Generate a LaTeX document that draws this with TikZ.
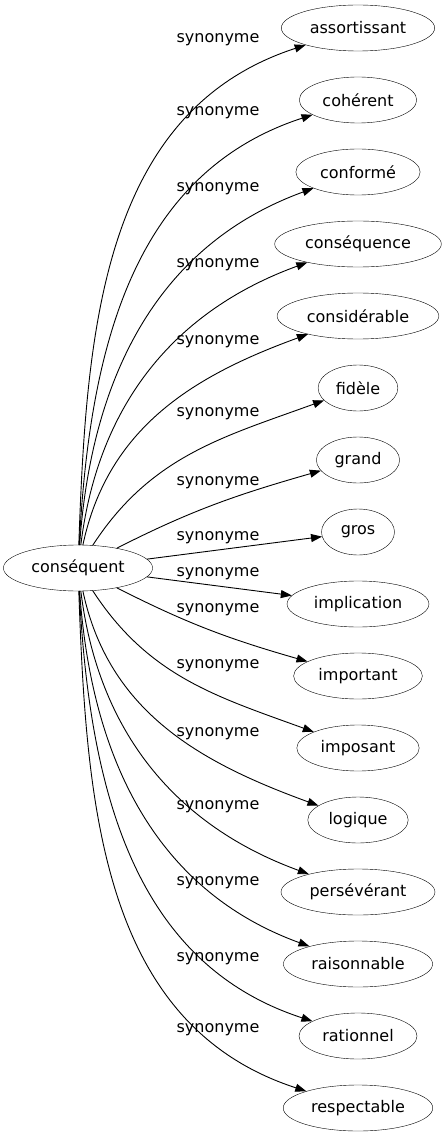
\documentclass[tikz,border=0pt]{standalone}
\usepackage{fontspec}
\setmainfont{DejaVu Sans}
\usetikzlibrary{arrows.meta,shapes.geometric}

\tikzset{mot/.style={draw,ellipse,inner xsep=6pt,inner ysep=2pt,minimum height=46pt,minimum width=73pt},
  lien/.style={->,line width=0.9pt}}

\begin{document}
\begin{tikzpicture}[line cap=round,line join=round,>={Triangle[length=11pt,width=8pt]},x=1pt,y=1pt,font=\fontsize{16}{19}\selectfont]
        \useasboundingbox (0,0) rectangle (445,-1139);
        \node [mot] (cons) at (78,-568) {conséquent};
        \node [mot] (asso) at (358,-28) {assortissant};
        \node [mot] (cohe) at (358,-100) {cohérent};
        \node [mot] (conf) at (358,-172) {conformé};
        \node [mot] (csqc) at (358,-244) {conséquence};
        \node [mot] (csdr) at (358,-316) {considérable};
        \node [mot] (fide) at (358,-388) {fidèle};
        \node [mot] (gran) at (358,-460) {grand};
        \node [mot] (gros) at (358,-532) {gros};
        \node [mot] (impl) at (358,-604) {implication};
        \node [mot] (impt) at (358,-676) {important};
        \node [mot] (impo) at (358,-748) {imposant};
        \node [mot] (logi) at (358,-820) {logique};
        \node [mot] (pers) at (358,-892) {persévérant};
        \node [mot] (rais) at (358,-964) {raisonnable};
        \node [mot] (rati) at (358,-1036) {rationnel};
        \node [mot] (resp) at (358,-1108) {respectable};
        \draw [lien] (cons) to[out=88,in=198] (asso);
        \draw [lien] (cons) to[out=87,in=198] (cohe);
        \draw [lien] (cons) to[out=86,in=200] (conf);
        \draw [lien] (cons) to[out=83,in=200] (csqc);
        \draw [lien] (cons) to[out=78,in=200] (csdr);
        \draw [lien] (cons) to[out=57,in=200] (fide);
        \draw [lien] (cons) to[out=27,in=196] (gran);
        \draw [lien] (cons) -- (gros);
        \draw [lien] (cons) -- (impl);
        \draw [lien] (cons) to[out=-27,in=164] (impt);
        \draw [lien] (cons) to[out=-57,in=160] (impo);
        \draw [lien] (cons) to[out=-78,in=160] (logi);
        \draw [lien] (cons) to[out=-83,in=160] (pers);
        \draw [lien] (cons) to[out=-86,in=160] (rais);
        \draw [lien] (cons) to[out=-87,in=162] (rati);
        \draw [lien] (cons) to[out=-88,in=162] (resp);
        % synonyme labels
        \draw (218,-40) node (s1) {synonyme};
        \draw (218,-113) node (s2) {synonyme};
        \draw (218,-189) node (s3) {synonyme};
        \draw (218,-265) node (s4) {synonyme};
        \draw (218,-342) node (s5) {synonyme};
        \draw (218,-414) node (s6) {synonyme};
        \draw (218,-483) node (s7) {synonyme};
        \draw (218,-538) node (s8) {synonyme};
        \draw (218,-574) node (s9) {synonyme};
        \draw (218,-610) node (s10) {synonyme};
        \draw (218,-666) node (s11) {synonyme};
        \draw (218,-734) node (s12) {synonyme};
        \draw (218,-807) node (s13) {synonyme};
        \draw (218,-883) node (s14) {synonyme};
        \draw (218,-959) node (s15) {synonyme};
        \draw (218,-1030) node (s16) {synonyme};
    \end{tikzpicture}
\end{document}
